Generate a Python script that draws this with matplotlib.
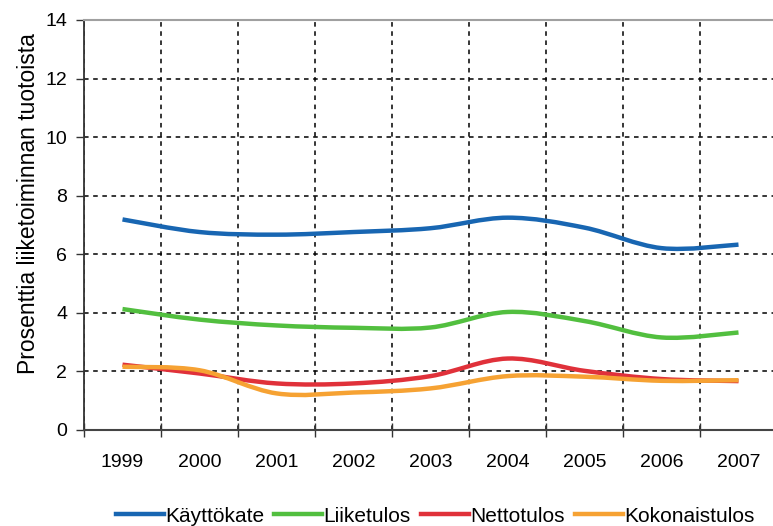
import matplotlib
matplotlib.use('Agg')
import matplotlib.pyplot as plt
from matplotlib.path import Path
from matplotlib.patches import PathPatch
from matplotlib.lines import Line2D
import numpy as np

plt.rcParams['font.family'] = ['Liberation Sans', 'DejaVu Sans']

years = ['1999', '2000', '2001', '2002', '2003', '2004', '2005', '2006', '2007']
kayttokate = [7.19, 6.76, 6.67, 6.76, 6.89, 7.25, 6.91, 6.21, 6.33]
liiketulos = [4.13, 3.77, 3.57, 3.49, 3.50, 4.03, 3.72, 3.16, 3.33]
nettotulos = [2.23, 1.93, 1.59, 1.59, 1.84, 2.44, 2.02, 1.74, 1.67]
kokonaistulos = [2.16, 2.04, 1.25, 1.28, 1.42, 1.84, 1.82, 1.68, 1.70]

series = [
    ('Käyttökate', kayttokate, '#1866b2'),
    ('Liiketulos', liiketulos, '#52bf3f'),
    ('Nettotulos', nettotulos, '#e0313a'),
    ('Kokonaistulos', kokonaistulos, '#f6a233'),
]


def smooth_path(x, y):
    # bezier segments like a spreadsheet "smoothed line"
    pts = np.column_stack([x, y]).astype(float)
    n = len(pts)
    verts = [pts[0]]
    codes = [Path.MOVETO]
    for i in range(n - 1):
        p0 = pts[i - 1] if i > 0 else pts[i]
        p1 = pts[i]
        p2 = pts[i + 1]
        p3 = pts[i + 2] if i + 2 < n else pts[i + 1]
        c1 = p1 + (p2 - p0) / 6.0
        c2 = p2 - (p3 - p1) / 6.0
        verts += [c1, c2, p2]
        codes += [Path.CURVE4] * 3
    return Path(verts, codes)


fig = plt.figure(figsize=(7.73, 5.26), dpi=100)
ax = fig.add_axes([84 / 773, 96 / 526, 693 / 773, 410 / 526])

x = np.arange(len(years))
handles = []
for name, vals, color in series:
    patch = PathPatch(smooth_path(x, vals), facecolor='none', edgecolor=color,
                      lw=3.2, capstyle='butt', joinstyle='round', zorder=3)
    ax.add_patch(patch)
    handles.append(Line2D([], [], color=color, lw=3.2, label=name))

ax.set_xlim(-0.5, len(years) - 0.5)
ax.set_ylim(0, 14)
ax.set_yticks(range(0, 15, 2))
ax.set_xticks(x)
ax.set_xticklabels(years)
ax.set_xticks(np.arange(-0.5, len(years), 1), minor=True)

ax.tick_params(axis='x', which='major', length=0, pad=17, labelsize=14)
ax.tick_params(axis='x', which='minor', direction='inout', length=10, width=1, color='#333333')
ax.tick_params(axis='y', direction='out', length=6, width=1, color='#333333', labelsize=14, pad=6)

ax.grid(axis='y', which='major', color='black', linestyle=(0, (3, 3)), lw=1.1)
ax.grid(axis='x', which='minor', color='black', linestyle=(0, (3, 3)), lw=1.1)
ax.set_axisbelow(True)

ax.spines['left'].set_color('#333333')
ax.spines['left'].set_linewidth(1.3)
ax.spines['bottom'].set_color('#444444')
ax.spines['bottom'].set_linewidth(1.5)
ax.spines['top'].set_color('#a0a0a0')
ax.spines['top'].set_linewidth(1.5)
ax.spines['right'].set_visible(False)

ax.set_ylabel('Prosenttia liiketoiminnan tuotoista', fontsize=16.5)
ax.yaxis.set_label_coords((40 - 84) / 693, 0.553)

fig.legend(handles=handles, loc='lower center', bbox_to_anchor=(435 / 773, -0.035),
           ncol=4, frameon=False, fontsize=15, handlelength=2.3,
           handletextpad=0.05, columnspacing=0.5)

fig.savefig('out.png', dpi=100)
